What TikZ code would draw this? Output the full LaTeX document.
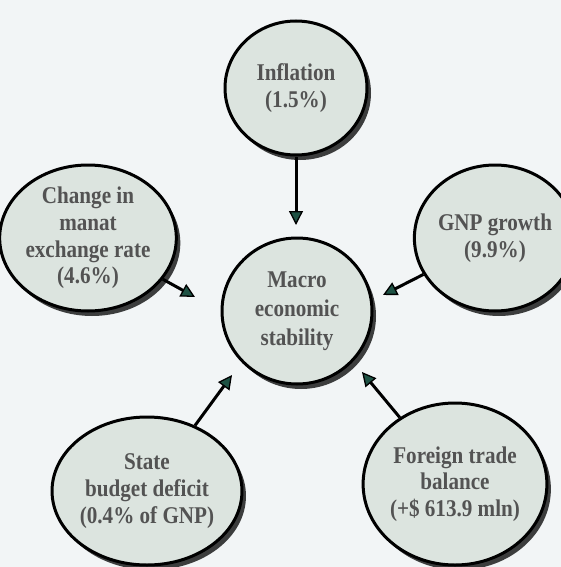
\documentclass[tikz,border=0pt]{standalone}
\usepackage{fontspec}
\setmainfont{Liberation Serif}[FakeStretch=0.88]
\usetikzlibrary{shapes.geometric,arrows.meta,shadows}
\definecolor{bgcol}{HTML}{F2F5F6}
\definecolor{circfill}{HTML}{DCE4DF}
\definecolor{txtcol}{HTML}{535353}
\definecolor{arrowgreen}{HTML}{1E5244}
\tikzset{
  bubble/.style={ellipse, draw=black, line width=3pt, fill=circfill, inner sep=0pt,
    align=center, text=txtcol, font=\fontsize{24}{26.7}\selectfont\bfseries,
    drop shadow={shadow xshift=4pt, shadow yshift=-5pt, opacity=0.75, fill=black}},
  arr/.style={line width=3pt, draw=black,
    -{Triangle[length=14pt,width=14pt,line width=1.3pt,fill=arrowgreen]}}
}
\begin{document}
\begin{tikzpicture}[x=1pt,y=-1pt]
\fill[bgcol] (0,0) rectangle (561,567);
\useasboundingbox (0,0) rectangle (561,567);
\node[bubble, minimum width=142pt, minimum height=134pt] (infl) at (296,88) {Inflation\\(1.5\%)};
\node[bubble, minimum width=150pt, minimum height=146pt] (manat) at (88,238) {Change in\\manat\\exchange rate\\(4.6\%)};
\node[bubble, minimum width=148pt, minimum height=146pt] (gnp) at (495,238) {GNP growth\\(9.9\%)};
\node[bubble, minimum width=150pt, minimum height=146pt, font=\fontsize{24}{29}\selectfont\bfseries] (macro) at (297,311) {Macro\\economic\\stability};
\node[bubble, minimum width=160pt, minimum height=148pt] (state) at (147,491) {State\\budget deficit\\(0.4\% of GNP)};
\node[bubble, minimum width=174pt, minimum height=162pt] (foreign) at (455,484) {Foreign trade\\balance\\(+\$ 613.9 mln)};
\coordinate (t1) at (296,225);
\coordinate (t2) at (195,297);
\coordinate (t3) at (383,295);
\coordinate (t4) at (232,375);
\coordinate (t5) at (362,372);
\draw[arr] (infl) -- (t1);
\draw[arr] (manat) -- (t2);
\draw[arr] (gnp) -- (t3);
\draw[arr] (state) -- (t4);
\draw[arr] (foreign) -- (t5);
\end{tikzpicture}
\end{document}
